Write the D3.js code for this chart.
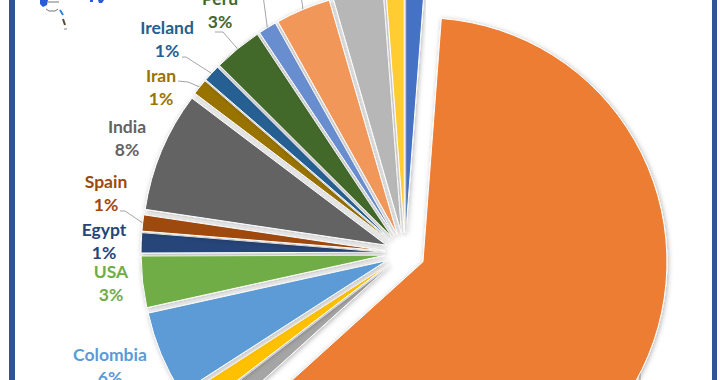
<!DOCTYPE html>
<html>
<head>
<meta charset="utf-8">
<script src="https://cdn.jsdelivr.net/npm/d3@7"></script>
<style>
  html, body { margin: 0; padding: 0; background: #fff; }
  text { font-family: Lato, "Open Sans", sans-serif; font-weight: 700; font-size: 17.5px; }
</style>
</head>
<body>
<svg id="chart" width="720" height="380"></svg>
<script>
// Values, clockwise from 12 o'clock
var countries = ["", "", "", "", "Colombia", "USA", "Egypt", "Spain", "India", "Iran", "Ireland", "Peru", "", "", "", ""];
var shares = [1.2, 62.1, 1.3, 1.3, 5.65, 3.4, 1.33, 1.07, 7.95, 1.05, 1.12, 3.2, 1.2, 3.63, 3.3, 1.2];
var shareLabels = ["", "", "", "", "6%", "3%", "1%", "1%", "8%", "1%", "1%", "3%", "", "", "", ""];
var colors = ["#4472C4", "#ED7D31", "#A5A5A5", "#FFC000", "#5B9BD5", "#70AD47", "#264478", "#9E480E",
              "#636363", "#997300", "#255E91", "#43682B", "#698ED0", "#F1975A", "#B7B7B7", "#FFCD33"];

// Label anchor per slice, centre of the name line
var labelX = [0, 0, 0, 0, 110, 111, 104, 106, 127, 161, 167, 220, 0, 0, 0, 0];
var labelY = [0, 0, 0, 0, 361, 278, 236, 188, 133, 82, 34, 5, 0, 0, 0, 0];

// Leader lines: slice index and the points before the rim
var leaderSlices = [1, 7, 9, 10, 11, 12, 13];
var leaderPoints = [
  [[640, 390], [640, 372]],
  [[120, 211], [125, 211]],
  [[178, 81], [188, 82]],
  [[182, 57], [186, 57]],
  [[215, 32], [223, 32]],
  [[263, -5]],
  [[301, -5]]
];

var cx = 405, cy = 253, radius = 244, explode = 20;

var svg = d3.select("#chart");

var defs = svg.append("defs");
var shadow = defs.append("filter").attr("id", "shadow")
    .attr("x", "-10%").attr("y", "-10%").attr("width", "120%").attr("height", "120%");
shadow.append("feDropShadow")
    .attr("dx", 1).attr("dy", 1).attr("stdDeviation", 2.5)
    .attr("flood-color", "#000").attr("flood-opacity", 0.3);
defs.append("filter").attr("id", "soft")
    .append("feGaussianBlur").attr("stdDeviation", 0.5);

// frame, only the two sides show
svg.append("rect").attr("x", 9).attr("y", 0).attr("width", 6).attr("height", 380).attr("fill", "#2F5597");
svg.append("rect").attr("x", 712).attr("y", 0).attr("width", 5).attr("height", 380).attr("fill", "#2F5597");

// bits of the map logo cut off at the top
var logo = svg.append("g").attr("filter", "url(#soft)");
logo.append("path").attr("d", "M40,0h8l-1,5l-4,2l-3,-3z M90,0h3v2h-3z M98,0h6l-2,3h-3z").attr("fill", "#2A5BD7");
logo.append("path").attr("d", "M48,2h11 M46,9l3,2h6l3,-2").attr("fill", "none").attr("stroke", "#777").attr("stroke-width", 1);
logo.append("path").attr("d", "M60,10l3,5").attr("fill", "none").attr("stroke", "#2E86E0").attr("stroke-width", 2);
logo.append("path").attr("d", "M63,19l2,6").attr("fill", "none").attr("stroke", "#5A4A30").attr("stroke-width", 2);
logo.append("path").attr("d", "M64,29h3").attr("fill", "none").attr("stroke", "#888").attr("stroke-width", 1);

var pie = d3.pie().sort(null).value(function(d) { return d; });
var arc = d3.arc().innerRadius(0).outerRadius(radius);
var arcs = pie(shares);

function offset(d) {
  var mid = (d.startAngle + d.endAngle) / 2;
  return [cx + explode * Math.sin(mid), cy - explode * Math.cos(mid)];
}

// point on the slice's outer edge, halfway along
function rimPoint(d) {
  var mid = (d.startAngle + d.endAngle) / 2;
  var o = offset(d);
  return [o[0] + radius * Math.sin(mid), o[1] - radius * Math.cos(mid)];
}

// leaders go under the slices
svg.append("g").selectAll("path")
    .data(leaderSlices)
    .enter().append("path")
    .attr("d", function(s, i) { return d3.line()(leaderPoints[i].concat([rimPoint(arcs[s])])); })
    .attr("fill", "none")
    .attr("stroke", "#A6A6A6")
    .attr("stroke-width", 1);

svg.append("g").selectAll("path")
    .data(arcs)
    .enter().append("path")
    .attr("transform", function(d) { return "translate(" + offset(d) + ")"; })
    .attr("d", arc)
    .attr("fill", function(d, i) { return colors[i]; })
    .attr("stroke", "#fff")
    .attr("stroke-width", 1)
    .attr("filter", "url(#shadow)");

// labels
var labels = svg.append("g").selectAll("g")
    .data(arcs.filter(function(d) { return countries[d.index] !== ""; }))
    .enter().append("g");

labels.append("text")
    .attr("text-anchor", "middle")
    .attr("x", function(d) { return labelX[d.index]; })
    .attr("y", function(d) { return labelY[d.index]; })
    .attr("fill", function(d) { return colors[d.index]; })
    .text(function(d) { return countries[d.index]; });

labels.append("text")
    .attr("text-anchor", "middle")
    .attr("x", function(d) { return labelX[d.index]; })
    .attr("y", function(d) { return labelY[d.index] + 23; })
    .attr("fill", function(d) { return colors[d.index]; })
    .text(function(d) { return shareLabels[d.index]; });
</script>
</body>
</html>
